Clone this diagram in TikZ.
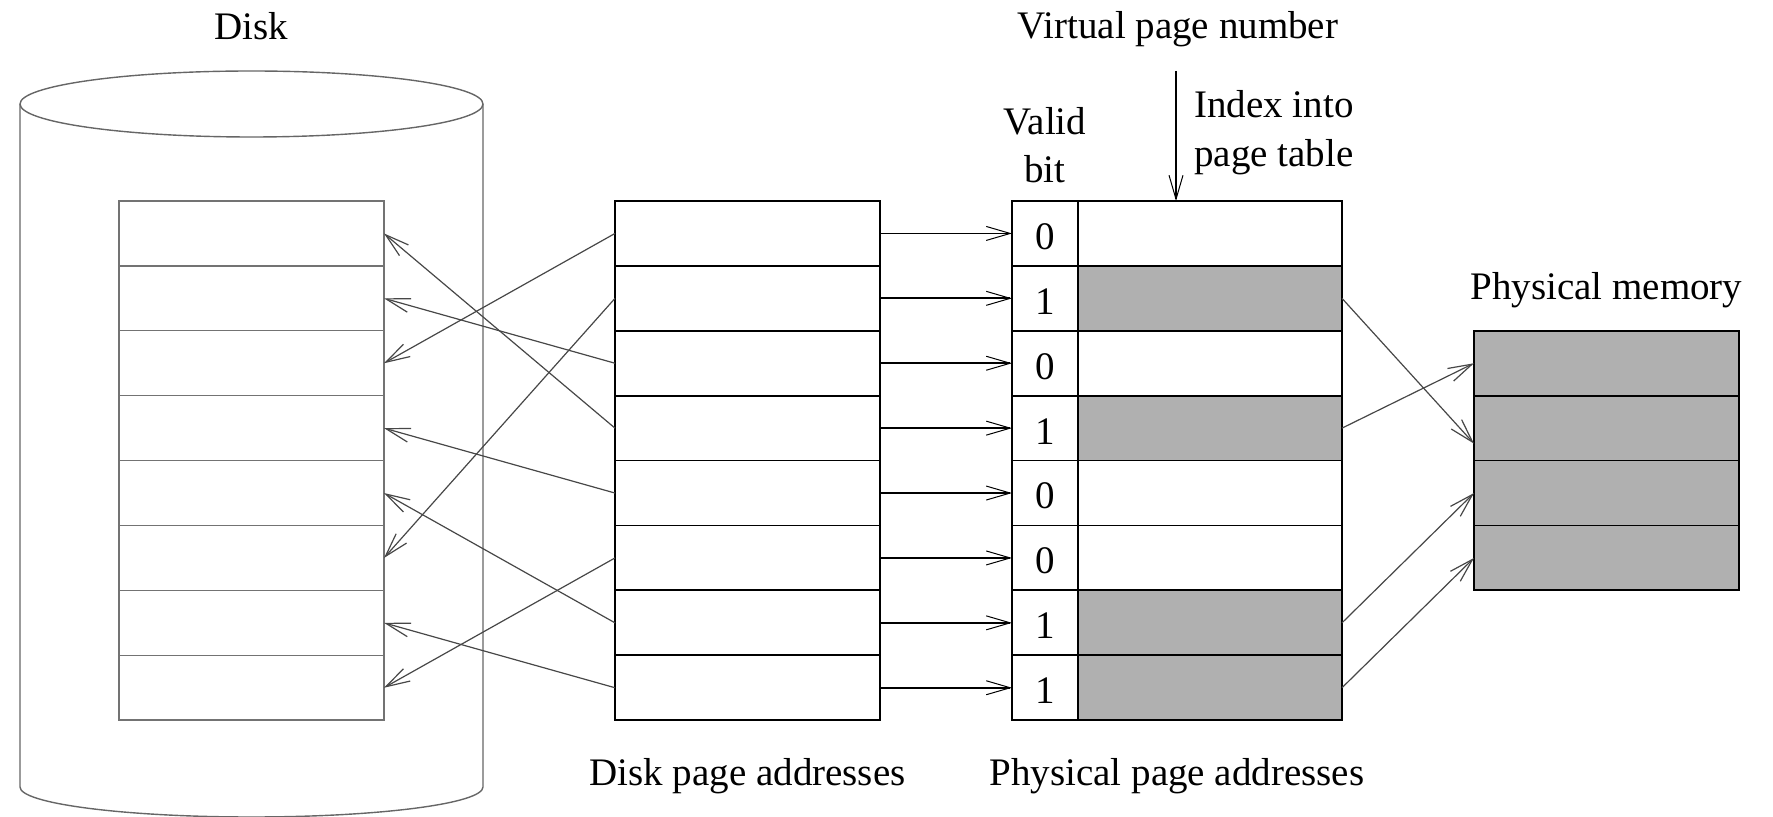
\documentclass[tikz,border=0pt]{standalone}
\usepackage{fontspec}
\setmainfont{Liberation Serif}
\usetikzlibrary{arrows.meta,calc}
\begin{document}
\begin{tikzpicture}[x=0.5pt,y=-0.5pt,
  lbl/.style={font=\fontsize{19.5}{24}\selectfont, inner sep=0pt, anchor=base},
  cellbase/.style={minimum height=32.45pt, inner sep=0pt, outer sep=0pt},
  dcell/.style={cellbase, draw=black!55, line width=0.7pt, minimum width=132.5pt},
  pcell/.style={cellbase, draw=black, line width=0.9pt, minimum width=132.5pt},
  vcell/.style={cellbase, draw=black, line width=0.9pt, minimum width=33pt},
  vtext/.style={inner sep=0pt, font=\fontsize{19.5}{24}\selectfont},
  pfn0/.style={cellbase, draw=black, line width=0.9pt, minimum width=132pt},
  pfn1/.style={pfn0, fill=black!31},
  mcell/.style={pcell, fill=black!31},
  disk/.style={draw=black!60, line width=0.7pt},
  arr/.style={draw=black!72, line width=0.6pt, -{Straight Barb[length=12pt,width=7pt]}},
  harr/.style={draw=black, line width=0.9pt, -{Straight Barb[length=12pt,width=7pt,line width=0.5pt]}},
  vline/.style={draw=black, line width=0.7pt, -{Straight Barb[length=12pt,width=7pt,line width=0.5pt]}}
]
\useasboundingbox (0,0) rectangle (1773,817);

% disk cylinder
\draw[disk] (251.5,104) ellipse[x radius=115.75pt, y radius=16.5pt];
\draw[disk] (20,104) -- (20,787) arc[start angle=180, end angle=360, x radius=115.75pt, y radius=15pt] -- (483,104);

% cells
\foreach \i/\v in {1/0,2/1,3/0,4/1,5/0,6/0,7/1,8/1}{
  \pgfmathsetmacro\yc{201+64.9*(\i-0.5)}
  \node[dcell] (d\i) at (251.5,\yc) {};
  \node[pcell] (p\i) at (747.5,\yc) {};
  \node[vcell] (v\i) at (1045,\yc) {};
  \node[vtext] (vt\i) at (1045,\yc+3) {\v};
  \node[pfn\v] (f\i) at (1210,\yc) {};
}
\foreach \j in {1,...,4}{
  \pgfmathsetmacro\yc{201+64.9*(\j+1.5)}
  \node[mcell] (m\j) at (1606.5,\yc) {};
}

% labels
\node[lbl] (disklbl) at (251.5,40) {Disk};
\node[lbl] (vpnlbl) at (1178,39) {Virtual page number};
\node[lbl] (validlbl) at (1045,135) {Valid};
\node[lbl] (bitlbl) at (1045,183) {bit};
\node[lbl, anchor=base west] (indexlbl) at (1194,118) {Index into};
\node[lbl, anchor=base west] (ptablbl) at (1194,167) {page table};
\node[lbl] (dpalbl) at (747.5,785) {Disk page addresses};
\node[lbl] (ppalbl) at (1177,785) {Physical page addresses};
\node[lbl] (pmlbl) at (1606.5,300) {Physical memory};

% virtual page number arrow
\coordinate (vpn) at (1176,71);
\draw[vline] (vpn) -- (vpn |- f1.north);

% disk page address -> disk block arrows
\foreach \s/\t in {1/3,2/6,3/2,4/1,5/4,6/8,7/5,8/7}
  \draw[arr] (p\s.west) -- (d\t.east);

% disk page address -> page table
\foreach \i in {1,...,8}
  \draw[harr] (p\i.east) -- (v\i.west);

% page table -> physical memory
\coordinate (m2in) at ($(m2.west)+(0,15.5)$);
\draw[arr] (f2.east) -- (m2in);
\draw[arr] (f4.east) -- (m1.west);
\draw[arr] (f7.east) -- (m3.west);
\draw[arr] (f8.east) -- (m4.west);
\end{tikzpicture}
\end{document}
